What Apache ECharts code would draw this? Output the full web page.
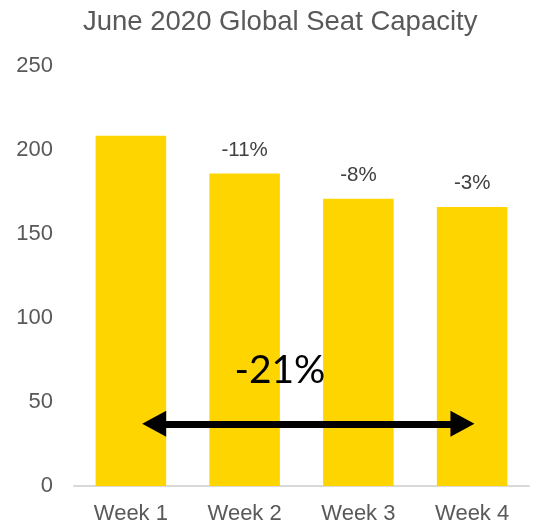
<!DOCTYPE html>
<html>
<head>
<meta charset="utf-8">
<script src="https://cdn.jsdelivr.net/npm/echarts@6/dist/echarts.min.js"></script>
<style>html,body{margin:0;padding:0;background:#fff}#c{width:539px;height:529px}</style>
</head>
<body>
<div id="c"></div>
<script>
const categories = ['Week 1', 'Week 2', 'Week 3', 'Week 4'];
const capacity = [208.5, 186, 171, 166];
const changeLabels = ['', '-11%', '-8%', '-3%'];
const totalChange = '-21%';
const arrowStart = [0.205, 37];
const arrowEnd = [2.915, 37];
const totalLabelPos = [1.31, 68.5];
const yTicks = { min: 0, max: 250, interval: 50 };

const chart = echarts.init(document.getElementById('c'));
const font = '"Liberation Sans", Arial, sans-serif';
chart.setOption({
  animation: false,
  title: {
    text: 'June 2020 Global Seat Capacity',
    left: 78,
    top: 3,
    textStyle: { fontFamily: font, fontSize: 27.5, fontWeight: 'normal', color: '#595959' }
  },
  grid: { left: 74, right: 10, top: 66, bottom: 43 },
  xAxis: [{
    type: 'category',
    data: categories,
    axisLine: { lineStyle: { color: '#D9D9D9', width: 2 } },
    axisTick: { show: false },
    axisLabel: { fontFamily: font, fontSize: 22, color: '#595959', margin: 17 }
  }, {
    type: 'value', min: -0.5, max: 3.5, show: false
  }],
  yAxis: {
    type: 'value',
    min: yTicks.min, max: yTicks.max, interval: yTicks.interval,
    splitLine: { show: false },
    axisLine: { show: false },
    axisTick: { show: false },
    axisLabel: { fontFamily: font, fontSize: 22, color: '#595959', margin: 21 }
  },
  series: [{
    type: 'bar',
    data: capacity,
    barCategoryGap: '38%',
    itemStyle: { color: '#FFD500' },
    label: {
      show: true,
      position: 'top',
      distance: 13,
      formatter: p => changeLabels[p.dataIndex],
      fontFamily: font, fontSize: 20.5, color: '#404040'
    }
  }, {
    type: 'line',
    xAxisIndex: 1,
    data: [],
    markLine: {
      silent: true,
      symbol: ['triangle', 'triangle'],
      symbolSize: [26, 24],
      lineStyle: { color: '#000', width: 7, type: 'solid' },
      label: { show: false },
      data: [[{ coord: arrowStart }, { coord: arrowEnd }]]
    },
    markPoint: {
      silent: true,
      symbol: 'circle',
      symbolSize: 1,
      itemStyle: { color: 'rgba(0,0,0,0)' },
      label: {
        show: true, position: 'inside', formatter: totalChange,
        fontFamily: 'Lato, "Noto Sans", sans-serif', fontSize: 39, color: '#000'
      },
      data: [{ coord: totalLabelPos }]
    }
  }]
});
</script>
</body>
</html>
